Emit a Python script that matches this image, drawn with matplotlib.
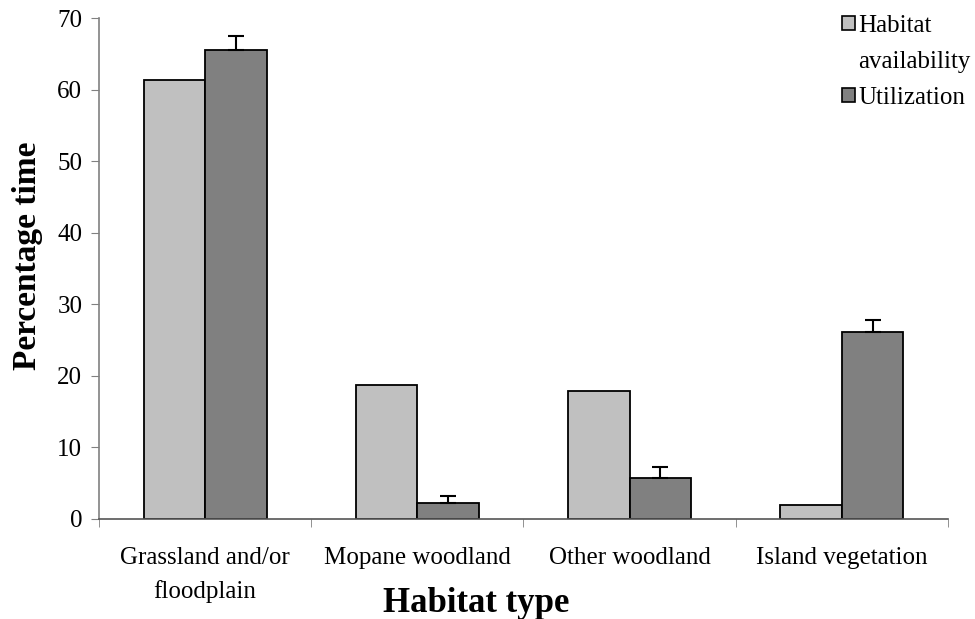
import numpy as np
import matplotlib
matplotlib.use('Agg')
import matplotlib.pyplot as plt
from matplotlib.patches import Patch

categories = ['Grassland and/or\nfloodplain', 'Mopane woodland', 'Other woodland', 'Island vegetation']
availability = [61.3, 18.7, 17.9, 1.9]
utilization = [65.5, 2.2, 5.7, 26.1]
util_err = [2.0, 1.0, 1.6, 1.7]

plt.rcParams['font.family'] = ['Liberation Serif', 'DejaVu Serif']

fig = plt.figure(figsize=(9.75, 6.19), dpi=100)
ax = fig.add_axes([0.1015, 0.1616, 0.8708, 0.8093])

x = np.arange(len(categories))
w = 0.29
ax.bar(x - w / 2, availability, w, color='#c0c0c0', edgecolor='black', linewidth=1.3)
ax.bar(x + w / 2, utilization, w, color='#808080', edgecolor='black', linewidth=1.3)
ax.errorbar(x + w / 2, utilization, yerr=[np.zeros(len(util_err)), util_err], fmt='none',
            ecolor='black', elinewidth=1.5, capsize=6, capthick=1.5)

ax.set_xlim(-0.5, len(categories) - 0.5)
ax.set_ylim(0, 70)
ax.set_yticks(range(0, 71, 10))
ax.set_xticks(x)
ax.set_xticklabels(categories, fontsize=18, linespacing=1.6)
ax.set_xticks(np.arange(-0.5, len(categories)), minor=True)
ax.tick_params(axis='x', which='major', length=0, pad=20)
ax.tick_params(axis='x', which='minor', length=6, color='#808080', direction='out')
ax.tick_params(axis='y', labelsize=18, length=6, pad=6, color='#808080', direction='out')

for s in ['top', 'right']:
    ax.spines[s].set_visible(False)
ax.spines['left'].set_color('#808080')
ax.spines['bottom'].set_color('#555555')
ax.spines['left'].set_linewidth(1.2)
ax.spines['bottom'].set_linewidth(1.2)

ax.set_ylabel('Percentage time', fontsize=24, fontweight='bold', va='center', ha='center')
ax.yaxis.set_label_coords(-0.084, 0.525)
ax.set_xlabel('Habitat type', fontsize=25, fontweight='bold', va='baseline', ha='center')
ax.xaxis.set_label_coords(0.444, -0.186)

handles = [Patch(facecolor='#c0c0c0', edgecolor='black', linewidth=1.2),
           Patch(visible=False),
           Patch(facecolor='#808080', edgecolor='black', linewidth=1.2)]
labels = ['Habitat', 'availability', 'Utilization']
fig.legend(handles, labels, loc='upper left', bbox_to_anchor=(842 / 975, 1 - 15 / 619),
           frameon=False, fontsize=18, borderpad=0, borderaxespad=0,
           handlelength=0.5, handleheight=0.5, handletextpad=0.15, labelspacing=0.55)

fig.savefig('out.png', dpi=100)
